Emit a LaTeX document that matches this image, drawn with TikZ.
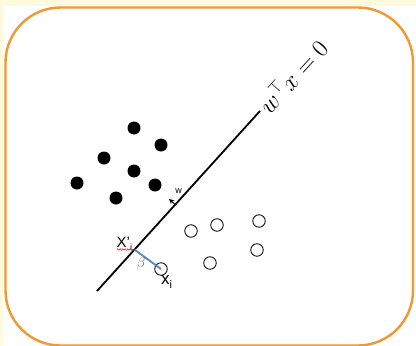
\documentclass[tikz,border=0pt]{standalone}
\usepackage{fontspec}
\setmainfont{Liberation Sans}
\usetikzlibrary{calc,arrows.meta,decorations.pathmorphing}
\definecolor{beige}{RGB}{255,249,222}
\definecolor{frame}{RGB}{240,152,50}
\definecolor{bluel}{RGB}{85,135,195}
\begin{document}
\begin{tikzpicture}[x=1pt,y=-1pt,
  fdot/.style={circle,fill=black,minimum size=13pt,inner sep=0pt},
  odot/.style={circle,draw=black,line width=0.8pt,minimum size=12.5pt,inner sep=0pt},
  lbl/.style={inner sep=0pt}]
\useasboundingbox (0,0) rectangle (416,346);
\fill[white] (0,0) rectangle (416,346);
\fill[beige] (0,0) rectangle (416,5.5);
\fill[beige] (0,0) rectangle (2.5,346);
\draw[frame,line width=2.4pt,rounded corners=55pt] (5.5,7.5) rectangle (413,345.5);
% filled points
\node[fdot] (d1) at (134,128) {};
\node[fdot] (d2) at (161,145) {};
\node[fdot] (d3) at (104,158) {};
\node[fdot] (d4) at (134,171) {};
\node[fdot] (d5) at (77,183) {};
\node[fdot] (d6) at (155,185) {};
\node[fdot] (d7) at (116,198) {};
% open points
\node[odot] (o1) at (191,231) {};
\node[odot] (o2) at (217,225) {};
\node[odot] (o3) at (259,221) {};
\node[odot] (o4) at (257,250) {};
\node[odot] (o5) at (210,263) {};
\node[odot] (o6) at (161,269) {};
% separating line
\coordinate (L1) at (97,291);
\coordinate (L2) at (260,111);
\draw[line width=1.8pt] (L1) -- (L2);
\node[lbl,anchor=west,rotate=47.8,font=\fontsize{24}{26}\selectfont] (eq) at ($(L2)+(2,-2)$) {$w^{\top} x = 0$};
% projection
\coordinate (Xp) at ($(L1)!0.23!(L2)$);
\draw[bluel,line width=1.8pt] (Xp) -- (o6.center);
\node[lbl,anchor=base west,font=\fontsize{15}{17}\selectfont] (xplbl) at (116.5,247) {X’\raisebox{-0.45ex}{\fontsize{9}{10}\selectfont i}};
\draw[red,line width=0.5pt,decorate,decoration={snake,amplitude=0.8pt,segment length=2.5pt}] (117,249.5) -- (133,249.5);
\node[lbl,text=black!55,font=\fontsize{15}{17}\selectfont] (beta) at (141,264) {$\beta$};
\node[lbl,anchor=base west,font=\fontsize{17}{19}\selectfont] (xilbl) at (161,284) {x\raisebox{-0.5ex}{\fontsize{11}{12}\selectfont i}};
% normal vector
\coordinate (W0) at ($(L1)!0.48!(L2)$);
\coordinate (W1) at ($(W0)+(-6.2,-5.6)$);
\draw[line width=1pt,-{Stealth[length=5pt,width=5pt]}] (W0) -- (W1);
\node[lbl,font=\fontsize{9}{10}\selectfont] (wlbl) at (178.5,191.5) {w};
\end{tikzpicture}
\end{document}
